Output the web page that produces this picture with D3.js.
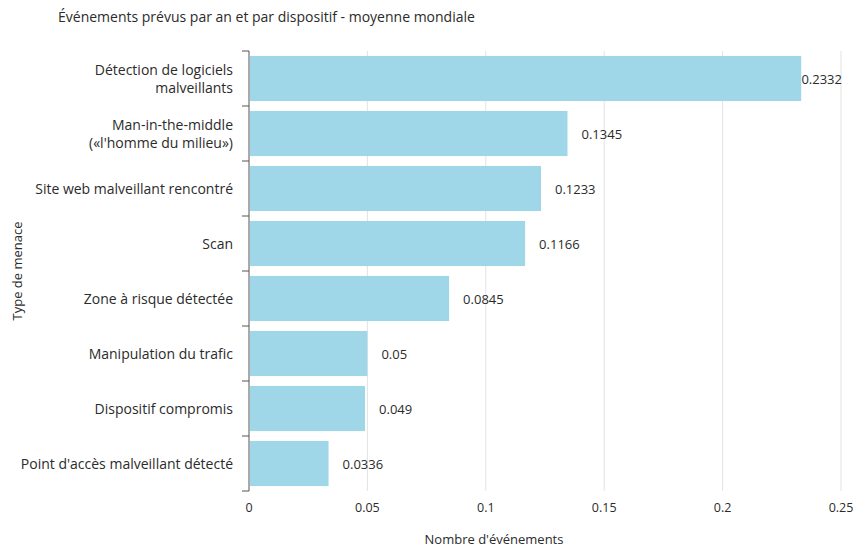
<!DOCTYPE html>
<html>
<head>
<meta charset="utf-8">
<script src="https://cdn.jsdelivr.net/npm/d3@7"></script>
<style>
  body { margin: 0; background: #fff; }
  text { font-family: "Open Sans", "Noto Sans", sans-serif; fill: #2b2b2b; }
</style>
</head>
<body>
<svg id="chart" width="854" height="550"></svg>
<script>
// Chart data
var categories = [
  ["Détection de logiciels", "malveillants"],
  ["Man-in-the-middle", "(«l'homme du milieu»)"],
  ["Site web malveillant rencontré"],
  ["Scan"],
  ["Zone à risque détectée"],
  ["Manipulation du trafic"],
  ["Dispositif compromis"],
  ["Point d'accès malveillant détecté"]
];
var values = [0.2332, 0.1345, 0.1233, 0.1166, 0.0845, 0.05, 0.049, 0.0336];
var valueLabels = ["0.2332", "0.1345", "0.1233", "0.1166", "0.0845", "0.05", "0.049", "0.0336"];
var xTicks = [0, 0.05, 0.1, 0.15, 0.2, 0.25];
var xTickLabels = ["0", "0.05", "0.1", "0.15", "0.2", "0.25"];

var margin = {top: 51, right: 13, bottom: 59, left: 249};
var W = 854, H = 550;
var innerW = W - margin.left - margin.right;
var innerH = H - margin.top - margin.bottom;

var svg = d3.select("#chart");
var g = svg.append("g").attr("transform", "translate(" + margin.left + "," + margin.top + ")");

var x = d3.scaleLinear().domain([0, 0.25]).range([0, innerW]);
var y = d3.scaleBand().domain(d3.range(categories.length)).range([0, innerH]).paddingInner(0.18).paddingOuter(0.09);

// gridlines
g.selectAll(".grid")
  .data(xTicks.slice(1))
  .enter().append("line")
  .attr("x1", d => x(d)).attr("x2", d => x(d))
  .attr("y1", 0).attr("y2", innerH)
  .style("stroke", "#e3e3e3").style("stroke-width", 1);

// x tick labels
g.selectAll(".xt")
  .data(xTicks)
  .enter().append("text")
  .attr("x", d => x(d))
  .attr("y", innerH + 21)
  .attr("text-anchor", "middle")
  .style("font-size", "12.5px")
  .text((d, i) => xTickLabels[i]);

// bars
g.selectAll(".bar")
  .data(values)
  .enter().append("rect")
  .attr("x", 1)
  .attr("y", (d, i) => y(i))
  .attr("width", d => x(d) - 1)
  .attr("height", y.bandwidth())
  .style("fill", "#9fd7e9");

// value labels
g.selectAll(".val")
  .data(values)
  .enter().append("text")
  .attr("y", (d, i) => y(i) + y.bandwidth() / 2 + 5)
  .style("font-size", "13px")
  .text((d, i) => valueLabels[i])
  .attr("x", function(d) {
    var w = this.getComputedTextLength();
    return Math.min(x(d) + 14, innerW - w + 1);
  });

// y axis line and ticks at band boundaries
var step = y.step();
var bounds = d3.range(categories.length + 1).map(i => i === 0 ? 0 : (i === categories.length ? innerH : y(i) - (step - y.bandwidth()) / 2));
g.append("line")
  .attr("x1", 0).attr("x2", 0).attr("y1", 0).attr("y2", innerH)
  .style("stroke", "#555").style("stroke-width", 1);
g.selectAll(".ytick")
  .data(bounds)
  .enter().append("line")
  .attr("x1", -7).attr("x2", 0)
  .attr("y1", d => d).attr("y2", d => d)
  .style("stroke", "#555").style("stroke-width", 1);

// category labels
var cat = g.selectAll(".cat")
  .data(categories)
  .enter().append("text")
  .attr("text-anchor", "end")
  .style("font-size", "14px")
  .attr("transform", (d, i) => "translate(-16," + (y(i) + y.bandwidth() / 2) + ")");
cat.each(function(lines) {
  var n = lines.length;
  d3.select(this).selectAll("tspan")
    .data(lines)
    .enter().append("tspan")
    .attr("x", 0)
    .attr("y", (d, j) => (j - (n - 1) / 2) * 18 + 5)
    .text(d => d);
});

// titles
svg.append("text")
  .attr("x", 58).attr("y", 22)
  .style("font-size", "14px")
  .text("Événements prévus par an et par dispositif - moyenne mondiale");

svg.append("text")
  .attr("x", 494).attr("y", 544)
  .attr("text-anchor", "middle")
  .style("font-size", "13px")
  .text("Nombre d'événements");

svg.append("text")
  .attr("transform", "translate(22," + (margin.top + innerH / 2) + ") rotate(-90)")
  .attr("text-anchor", "middle")
  .style("font-size", "13px")
  .text("Type de menace");
</script>
</body>
</html>
